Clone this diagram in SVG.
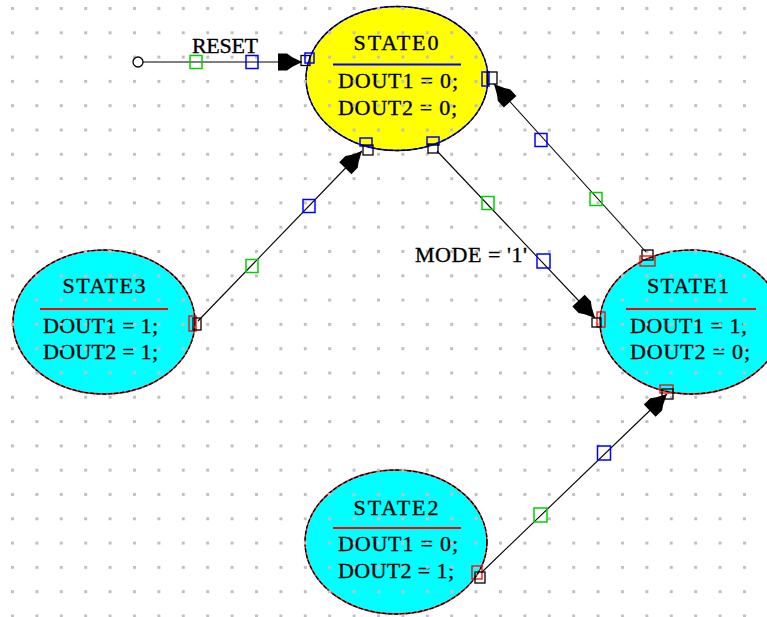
<svg xmlns="http://www.w3.org/2000/svg" width="767" height="617" viewBox="0 0 767 617">
<style>
.t{font-family:"Liberation Serif","Times New Roman",serif;font-size:22px;fill:#000;stroke:#000;stroke-width:0.35}
.c{text-anchor:middle}
.el{stroke-width:1.4}
.dash{fill:none;stroke:#000;stroke-width:1.3;stroke-dasharray:4 2}
.cn{fill:none;stroke:#000;stroke-width:1.1}
.g{fill:none;stroke:#00d000;stroke-width:1.5}
.b{fill:none;stroke:#0000ff;stroke-width:1.5}
.r{fill:none;stroke:#ff0000;stroke-width:1.3}
.k{fill:none;stroke:#000;stroke-width:1.3}
</style>
<defs>
<pattern id="dots" patternUnits="userSpaceOnUse" x="11" y="7" width="24.4" height="24.3">
<rect x="0" y="0" width="3" height="3" fill="#c0c0c0"/>
</pattern>
<marker id="ah" markerUnits="userSpaceOnUse" viewBox="-26 -10 28 20" refX="0" refY="0" markerWidth="28" markerHeight="20" orient="auto">
<path d="M0,0 L-10,-5 L-15,-8.5 L-24,-8.5 L-24,8.5 L-15,8.5 L-10,5 Z" fill="#000"/>
</marker>
</defs>
<rect width="767" height="617" fill="#fff"/>

<g id="STATE0">
<ellipse cx="397" cy="78.5" rx="91" ry="72" fill="#ffff00" stroke="#0000ff" class="el"/>
<ellipse cx="397" cy="78.5" rx="91" ry="72" class="dash"/>
<text class="t c" x="396" y="50" textLength="85" lengthAdjust="spacing">STATE0</text>
<line x1="333" y1="64.5" x2="461" y2="64.5" stroke="#0000ff" stroke-width="2"/>
<text class="t" x="338" y="88" textLength="120" lengthAdjust="spacing">DOUT1 = 0;</text>
<text class="t" x="338" y="115" textLength="119" lengthAdjust="spacing">DOUT2 = 0;</text>
</g>

<g id="STATE3">
<ellipse cx="104" cy="322" rx="91" ry="72" fill="#00ffff" stroke="#ff0000" class="el"/>
<ellipse cx="104" cy="322" rx="91" ry="72" class="dash"/>
<text class="t c" x="104" y="293" textLength="83" lengthAdjust="spacing">STATE3</text>
<line x1="40" y1="309" x2="168" y2="309" stroke="#ff0000" stroke-width="2"/>
<text class="t" x="43" y="333" textLength="115" lengthAdjust="spacing">DOUT1 = 1;</text>
<text class="t" x="43" y="359" textLength="115" lengthAdjust="spacing">DOUT2 = 1;</text>
</g>

<g id="STATE1">
<ellipse cx="691" cy="322" rx="91" ry="72" fill="#00ffff" stroke="#ff0000" class="el"/>
<ellipse cx="691" cy="322" rx="91" ry="72" class="dash"/>
<text class="t c" x="688" y="293" textLength="82" lengthAdjust="spacing">STATE1</text>
<line x1="626" y1="309" x2="756" y2="309" stroke="#ff0000" stroke-width="2"/>
<text class="t" x="630" y="333" textLength="117" lengthAdjust="spacing">DOUT1 = 1;</text>
<text class="t" x="630" y="359" textLength="120" lengthAdjust="spacing">DOUT2 = 0;</text>
</g>

<g id="STATE2">
<ellipse cx="396" cy="542" rx="91" ry="72" fill="#00ffff" stroke="#ff0000" class="el"/>
<ellipse cx="396" cy="542" rx="91" ry="72" class="dash"/>
<text class="t c" x="396" y="515" textLength="85" lengthAdjust="spacing">STATE2</text>
<line x1="333" y1="528" x2="461" y2="528" stroke="#ff0000" stroke-width="2"/>
<text class="t" x="338" y="551" textLength="120" lengthAdjust="spacing">DOUT1 = 0;</text>
<text class="t" x="338" y="578" textLength="116" lengthAdjust="spacing">DOUT2 = 1;</text>
</g>

<rect id="grid" width="767" height="617" fill="url(#dots)"/>

<g id="connectors">
<circle cx="138" cy="62" r="5" fill="#fff" stroke="#000" stroke-width="1.3"/>
<line class="cn" x1="143" y1="62" x2="302" y2="62" marker-end="url(#ah)"/>
<rect class="g" x="190" y="55.5" width="12" height="13"/>
<rect class="b" x="246" y="55.5" width="12" height="13"/>
<text class="t" x="192" y="53" textLength="66" lengthAdjust="spacing">RESET</text>

<line class="cn" x1="437" y1="151" x2="595" y2="318" marker-end="url(#ah)"/>
<rect class="g" x="482" y="196.5" width="12" height="13"/>
<rect class="b" x="537" y="254" width="13" height="14"/>
<text class="t" x="415" y="262" textLength="112" lengthAdjust="spacing">MODE = '1'</text>

<line class="cn" x1="646" y1="252" x2="494" y2="84" marker-end="url(#ah)"/>
<rect class="g" x="590" y="192.5" width="12" height="13"/>
<rect class="b" x="535" y="133.5" width="12" height="13"/>

<line class="cn" x1="198" y1="321" x2="362" y2="151" marker-end="url(#ah)"/>
<rect class="g" x="246" y="259.5" width="12" height="13"/>
<rect class="b" x="303" y="199.5" width="12" height="13"/>

<line class="cn" x1="481" y1="573" x2="667" y2="394" marker-end="url(#ah)"/>
<rect class="g" x="534" y="508" width="13" height="14"/>
<rect class="b" x="597.5" y="446" width="13" height="14"/>

<rect class="k" x="301" y="55.5" width="9" height="10"/>
<rect class="b" x="305" y="53" width="9" height="10"/>
<rect class="b" x="360" y="138" width="12" height="8"/>
<rect class="k" x="363" y="145" width="10" height="10"/>
<rect class="b" x="427" y="137" width="12" height="8"/>
<rect class="k" x="428" y="144" width="10" height="9"/>
<rect class="b" x="482" y="72" width="7" height="14"/>
<rect class="k" x="487" y="72" width="10" height="12"/>
<rect class="k" x="642" y="250" width="11" height="10"/>
<rect class="r" x="640" y="256" width="15" height="10"/>
<rect class="r" x="597" y="312" width="8" height="15"/>
<rect class="k" x="592" y="318" width="9" height="9"/>
<rect class="r" x="660" y="385" width="13" height="8"/>
<rect class="k" x="662" y="389" width="11" height="10"/>
<rect class="r" x="189" y="316" width="7" height="15"/>
<rect class="k" x="193" y="318" width="8" height="12"/>
<rect class="r" x="472" y="566" width="10" height="13"/>
<rect class="k" x="475" y="572" width="10" height="11"/>
</g>
</svg>
